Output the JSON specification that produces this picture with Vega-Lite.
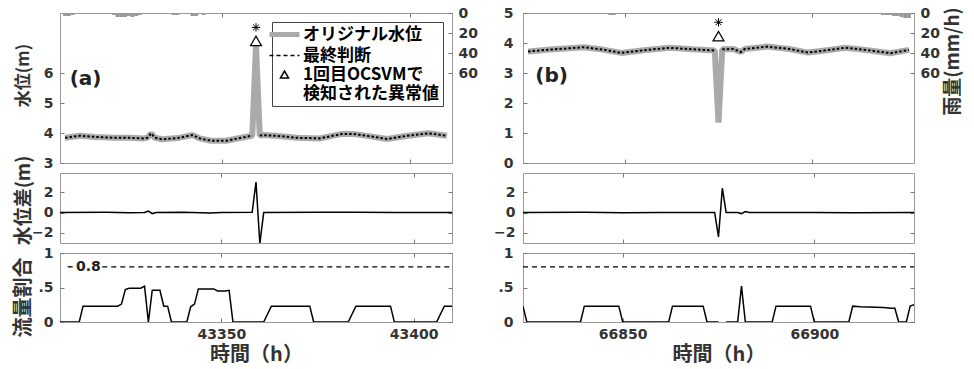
{
  "$schema": "https://vega.github.io/schema/vega-lite/v6.json",
  "background": "white",
  "padding": {"left": 12, "top": 5, "right": 5, "bottom": 5},
  "bounds": "flush",
  "columns": 2,
  "spacing": {"row": 10, "column": 71},
  "datasets": {
    "levelA": [
      {"t":43308,"orig":3.84,"final":3.84},{"t":43312,"orig":3.91,"final":3.91},{"t":43316,"orig":3.87,"final":3.87},
      {"t":43321,"orig":3.84,"final":3.84},{"t":43325,"orig":3.84,"final":3.84},{"t":43329,"orig":3.82,"final":3.82},
      {"t":43330,"orig":3.84,"final":3.84},{"t":43331,"orig":3.99,"final":3.99},{"t":43332,"orig":3.84,"final":3.84},
      {"t":43334,"orig":3.79,"final":3.79},{"t":43338,"orig":3.83,"final":3.83},{"t":43342,"orig":3.93,"final":3.93},
      {"t":43344,"orig":3.82,"final":3.82},{"t":43347,"orig":3.74,"final":3.74},{"t":43351,"orig":3.74,"final":3.74},
      {"t":43355,"orig":3.84,"final":3.84},{"t":43358,"orig":3.91,"final":3.91},{"t":43359,"orig":6.9,"final":null},
      {"t":43360,"orig":3.92,"final":3.92},{"t":43361,"orig":3.93,"final":3.93},{"t":43365,"orig":3.9,"final":3.9},
      {"t":43370,"orig":3.84,"final":3.84},{"t":43376,"orig":3.82,"final":3.82},{"t":43382,"orig":3.97,"final":3.97},
      {"t":43385,"orig":3.97,"final":3.97},{"t":43390,"orig":3.88,"final":3.88},{"t":43394,"orig":3.8,"final":3.8},
      {"t":43399,"orig":3.9,"final":3.9},{"t":43405,"orig":3.99,"final":3.99},{"t":43410,"orig":3.91,"final":3.91}
    ],
    "levelB": [
      {"t":66824,"orig":3.72,"final":3.72},{"t":66830,"orig":3.78,"final":3.78},{"t":66839,"orig":3.86,"final":3.86},
      {"t":66844,"orig":3.78,"final":3.78},{"t":66849,"orig":3.67,"final":3.67},{"t":66855,"orig":3.76,"final":3.76},
      {"t":66862,"orig":3.84,"final":3.84},{"t":66868,"orig":3.79,"final":3.79},{"t":66874,"orig":3.75,"final":3.75},
      {"t":66875,"orig":1.35,"final":null},{"t":66876,"orig":3.79,"final":3.79},{"t":66879,"orig":3.8,"final":3.8},
      {"t":66881,"orig":3.7,"final":3.7},{"t":66882,"orig":3.8,"final":3.8},{"t":66888,"orig":3.88,"final":3.88},
      {"t":66894,"orig":3.8,"final":3.8},{"t":66899,"orig":3.68,"final":3.68},{"t":66904,"orig":3.76,"final":3.76},
      {"t":66909,"orig":3.84,"final":3.84},{"t":66915,"orig":3.76,"final":3.76},{"t":66921,"orig":3.66,"final":3.66},
      {"t":66926,"orig":3.77,"final":3.77}
    ],
    "rainA": [
      {"t":43308,"rain":3},{"t":43309,"rain":3},{"t":43310,"rain":2},{"t":43321,"rain":2},{"t":43322,"rain":4},
      {"t":43323,"rain":4},{"t":43324,"rain":4},{"t":43325,"rain":3},{"t":43326,"rain":4},{"t":43327,"rain":3},
      {"t":43328,"rain":2},{"t":43337,"rain":2},{"t":43338,"rain":2},{"t":43342,"rain":3},{"t":43343,"rain":3},
      {"t":43345,"rain":2},{"t":43346,"rain":1}
    ],
    "rainB": [
      {"t":66845,"rain":1},{"t":66846,"rain":2},{"t":66847,"rain":2},{"t":66848,"rain":1},{"t":66916,"rain":1},
      {"t":66917,"rain":1},{"t":66918,"rain":1},{"t":66919,"rain":2},{"t":66920,"rain":2},{"t":66921,"rain":2},
      {"t":66922,"rain":3},{"t":66923,"rain":3},{"t":66924,"rain":4},{"t":66925,"rain":5},{"t":66926,"rain":5}
    ],
    "markA": [{"t":43359,"tri":7.07,"star":7.52}],
    "markB": [{"t":66875,"tri":4.23,"star":4.69}],
    "diffA": [
      {"t":43308,"d":0},{"t":43320,"d":0.02},{"t":43326,"d":-0.02},{"t":43330,"d":0},{"t":43331,"d":0.15},
      {"t":43332,"d":-0.1},{"t":43333,"d":0},{"t":43340,"d":0.02},{"t":43347,"d":-0.05},{"t":43350,"d":0},
      {"t":43358,"d":0.02},{"t":43359,"d":3.0},{"t":43360,"d":-3.05},{"t":43361,"d":0},{"t":43375,"d":0.02},
      {"t":43385,"d":0.02},{"t":43395,"d":0},{"t":43410,"d":0}
    ],
    "diffB": [
      {"t":66824,"d":0},{"t":66840,"d":0.02},{"t":66850,"d":-0.02},{"t":66860,"d":0.01},{"t":66874,"d":0},
      {"t":66875,"d":-2.4},{"t":66876,"d":2.4},{"t":66877,"d":0},{"t":66880,"d":0},{"t":66881,"d":-0.1},
      {"t":66882,"d":0.1},{"t":66883,"d":0},{"t":66900,"d":0},{"t":66910,"d":-0.02},{"t":66926,"d":0}
    ],
    "flowA": [
      {"t":43308,"r":0},{"t":43313,"r":0},{"t":43314,"r":0.23},{"t":43323,"r":0.23},{"t":43324,"r":0.26},
      {"t":43325,"r":0.47},{"t":43326,"r":0.49},{"t":43329,"r":0.49},{"t":43330,"r":0.52},{"t":43331,"r":0},
      {"t":43332,"r":0.46},{"t":43334,"r":0.46},{"t":43335,"r":0.23},{"t":43336,"r":0.23},{"t":43337,"r":0},
      {"t":43341,"r":0},{"t":43342,"r":0.22},{"t":43343,"r":0.26},{"t":43344,"r":0.48},{"t":43348,"r":0.48},
      {"t":43349,"r":0.45},{"t":43351,"r":0.45},{"t":43352,"r":0.46},{"t":43353,"r":0},{"t":43361,"r":0},
      {"t":43363,"r":0.23},{"t":43373,"r":0.23},{"t":43374,"r":0},{"t":43383,"r":0},{"t":43385,"r":0.23},
      {"t":43394,"r":0.23},{"t":43395,"r":0},{"t":43406,"r":0},{"t":43408,"r":0.23},{"t":43410,"r":0.23}
    ],
    "flowB": [
      {"t":66824,"r":0.23},{"t":66825,"r":0},{"t":66839,"r":0},{"t":66840,"r":0.23},{"t":66849,"r":0.23},
      {"t":66850,"r":0},{"t":66862,"r":0},{"t":66863,"r":0.23},{"t":66871,"r":0.23},{"t":66872,"r":0},
      {"t":66875,"r":0},{"t":66876,"r":null},{"t":66877,"r":0},{"t":66880,"r":0},{"t":66881,"r":0.52},
      {"t":66882,"r":0},{"t":66889,"r":0},{"t":66890,"r":0.23},{"t":66899,"r":0.23},{"t":66900,"r":0},
      {"t":66909,"r":0},{"t":66910,"r":0.23},{"t":66912,"r":0.22},{"t":66918,"r":0.21},{"t":66920,"r":0.2},
      {"t":66921,"r":0.2},{"t":66922,"r":0},{"t":66924,"r":0},{"t":66925,"r":0.23},{"t":66926,"r":0.25}
    ],
    "ruleA": [{"x1":43310,"x2":43312,"y":0.8},{"x1":43319,"x2":43410,"y":0.8}],
    "ruleB": [{"x1":66824,"x2":66926,"y":0.8}]
  },
  "concat": [
    {
      "width": 392, "height": 150,
      "layer": [
        {
          "data": {"name": "rainA"},
          "mark": {"type": "bar", "size": 3.8, "color": "#999999", "clip": true},
          "encoding": {
            "x": {"field": "t", "type": "quantitative", "scale": {"domain": [43308, 43410], "nice": false, "zero": false},
                  "axis": {"orient": "top", "values": [43350, 43400], "labels": false, "title": null}},
            "y": {"field": "rain", "type": "quantitative", "scale": {"domain": [0, 150], "reverse": true, "nice": false},
                  "axis": {"orient": "right", "values": [0, 20, 40, 60], "title": null, "labelPadding": 10}}
          }
        },
        {
          "data": {"name": "levelA"},
          "mark": {"type": "line", "strokeWidth": 6, "strokeJoin": "bevel", "clip": true},
          "encoding": {
            "x": {"field": "t", "type": "quantitative", "axis": {"orient": "bottom", "values": [43350, 43400], "labels": false, "title": null}},
            "y": {"field": "orig", "type": "quantitative", "scale": {"domain": [3, 8], "nice": false, "zero": false},
                  "axis": {"orient": "left", "values": [3, 4, 5, 6], "title": "水位(m)", "titleFontSize": 17, "labelPadding": 11, "titleX": -37, "titleY": 62, "titleBaseline": "middle", "titleAlign": "center"}},
            "color": {"datum": "オリジナル水位", "type": "nominal",
              "scale": {"domain": ["オリジナル水位", "最終判断", "1回目OCSVMで検知された異常値"], "range": ["#aaaaaa", "#000000", "#000000"]},
              "legend": {
                "orient": "none", "legendX": 212, "legendY": 9, "title": null, "direction": "vertical",
                "labelFont": "Noto Sans CJK JP", "labelFontSize": 17, "labelFontWeight": "bold", "labelColor": "#000000",
                "strokeColor": "#444444", "fillColor": "#ffffff", "padding": 4, "rowPadding": 1, "labelOffset": 10,
                "symbolSize": 900, "symbolType": "stroke",
                "labelExpr": "datum.label === '1回目OCSVMで検知された異常値' ? ['1回目OCSVMで', '検知された異常値'] : datum.label",
                "encode": {"symbols": {"update": {
                  "shape": {"signal": "datum.value === '1回目OCSVMで検知された異常値' ? 'triangle-up' : 'stroke'"},
                  "size": {"signal": "datum.value === '1回目OCSVMで検知された異常値' ? 64 : 900"},
                  "strokeWidth": {"signal": "datum.value === 'オリジナル水位' ? 5 : 1.5"},
                  "strokeDash": {"signal": "datum.value === '最終判断' ? [4, 3] : [1, 0]"},
                  "stroke": {"signal": "datum.value === 'オリジナル水位' ? '#aaaaaa' : '#000000'"},
                  "fill": {"value": "transparent"},
                  "opacity": {"value": 1}
                }}}
              }
            }
          }
        },
        {
          "data": {"name": "levelA"},
          "mark": {"type": "line", "strokeWidth": 2, "strokeDash": [2.5, 2], "invalid": "break-paths-show-domains", "clip": true},
          "encoding": {
            "x": {"field": "t", "type": "quantitative", "axis": null},
            "y": {"field": "final", "type": "quantitative", "scale": {"domain": [3, 8], "nice": false, "zero": false}, "axis": null},
            "color": {"datum": "最終判断", "type": "nominal"}
          }
        },
        {
          "data": {"name": "markA"},
          "mark": {"type": "point", "shape": "triangle-up", "filled": false, "size": 120, "strokeWidth": 1.2, "opacity": 1},
          "encoding": {
            "x": {"field": "t", "type": "quantitative", "axis": null},
            "y": {"field": "tri", "type": "quantitative", "scale": {"domain": [3, 8], "nice": false, "zero": false}, "axis": null},
            "color": {"datum": "1回目OCSVMで検知された異常値", "type": "nominal"}
          }
        },
        {
          "data": {"name": "markA"},
          "mark": {"type": "point", "shape": "M-1,0L1,0M0,-1L0,1M-0.7,-0.7L0.7,0.7M-0.7,0.7L0.7,-0.7", "filled": false, "stroke": "#000000", "size": 70, "strokeWidth": 1, "opacity": 1},
          "encoding": {
            "x": {"field": "t", "type": "quantitative", "axis": null},
            "y": {"field": "star", "type": "quantitative", "scale": {"domain": [3, 8], "nice": false, "zero": false}, "axis": null}
          }
        },
        {
          "data": {"values": [{}]},
          "mark": {"type": "text", "font": "DejaVu Sans", "fontSize": 20, "fontWeight": "bold", "align": "center", "baseline": "middle", "color": "#222222"},
          "encoding": {
            "x": {"datum": 43313.5, "type": "quantitative", "axis": null},
            "y": {"datum": 5.8, "type": "quantitative", "scale": {"domain": [3, 8], "nice": false, "zero": false}, "axis": null},
            "text": {"value": "(a)"}
          }
        }
      ],
      "resolve": {"scale": {"y": "independent"}, "axis": {"x": "independent", "y": "independent"}}
    },
    {
      "width": 391, "height": 150,
      "layer": [
        {
          "data": {"name": "rainB"},
          "mark": {"type": "bar", "size": 3.8, "color": "#999999", "clip": true},
          "encoding": {
            "x": {"field": "t", "type": "quantitative", "scale": {"domain": [66824, 66926], "nice": false, "zero": false},
                  "axis": {"orient": "top", "values": [66850, 66900], "labels": false, "title": null}},
            "y": {"field": "rain", "type": "quantitative", "scale": {"domain": [0, 150], "reverse": true, "nice": false},
                  "axis": {"orient": "right", "values": [0, 20, 40, 60], "title": "雨量(mm/h)", "titleFontSize": 19, "labelPadding": 10, "titleAngle": 270, "titleX": 38, "titleY": 48, "titleBaseline": "middle", "titleAlign": "center"}}
          }
        },
        {
          "data": {"name": "levelB"},
          "mark": {"type": "line", "strokeWidth": 6, "strokeJoin": "bevel", "color": "#aaaaaa", "clip": true},
          "encoding": {
            "x": {"field": "t", "type": "quantitative", "axis": {"orient": "bottom", "values": [66850, 66900], "labels": false, "title": null}},
            "y": {"field": "orig", "type": "quantitative", "scale": {"domain": [0, 5], "nice": false},
                  "axis": {"orient": "left", "values": [0, 1, 2, 3, 4, 5], "title": null, "labelPadding": 14}}
          }
        },
        {
          "data": {"name": "levelB"},
          "mark": {"type": "line", "strokeWidth": 2, "strokeDash": [2.5, 2], "color": "#000000", "invalid": "break-paths-show-domains", "clip": true},
          "encoding": {
            "x": {"field": "t", "type": "quantitative", "axis": null},
            "y": {"field": "final", "type": "quantitative", "scale": {"domain": [0, 5], "nice": false}, "axis": null}
          }
        },
        {
          "data": {"name": "markB"},
          "mark": {"type": "point", "shape": "triangle-up", "filled": false, "size": 120, "strokeWidth": 1.2, "stroke": "#000000", "opacity": 1},
          "encoding": {
            "x": {"field": "t", "type": "quantitative", "axis": null},
            "y": {"field": "tri", "type": "quantitative", "scale": {"domain": [0, 5], "nice": false}, "axis": null}
          }
        },
        {
          "data": {"name": "markB"},
          "mark": {"type": "point", "shape": "M-1,0L1,0M0,-1L0,1M-0.7,-0.7L0.7,0.7M-0.7,0.7L0.7,-0.7", "filled": false, "stroke": "#000000", "size": 70, "strokeWidth": 1, "opacity": 1},
          "encoding": {
            "x": {"field": "t", "type": "quantitative", "axis": null},
            "y": {"field": "star", "type": "quantitative", "scale": {"domain": [0, 5], "nice": false}, "axis": null}
          }
        },
        {
          "data": {"values": [{}]},
          "mark": {"type": "text", "font": "DejaVu Sans", "fontSize": 20, "fontWeight": "bold", "align": "center", "baseline": "middle", "color": "#222222"},
          "encoding": {
            "x": {"datum": 66830.3, "type": "quantitative", "axis": null},
            "y": {"datum": 2.9, "type": "quantitative", "scale": {"domain": [0, 5], "nice": false}, "axis": null},
            "text": {"value": "(b)"}
          }
        }
      ],
      "resolve": {"scale": {"y": "independent"}, "axis": {"x": "independent", "y": "independent"}}
    },
    {
      "width": 392, "height": 70,
      "layer": [
        {
          "data": {"name": "diffA"},
          "mark": {"type": "line", "color": "#000000", "strokeWidth": 1.5, "clip": true},
          "encoding": {
            "x": {"field": "t", "type": "quantitative", "scale": {"domain": [43308, 43410], "nice": false, "zero": false},
                  "axis": {"orient": "bottom", "values": [43350, 43400], "labels": false, "title": null}},
            "y": {"field": "d", "type": "quantitative", "scale": {"domain": [-3, 3.9], "nice": false, "zero": false},
                  "axis": {"orient": "left", "values": [-2, 0, 2], "title": "水位差(m)", "titleFontSize": 19, "labelPadding": 11, "titleX": -37, "titleY": 27, "titleBaseline": "middle", "titleAlign": "center"}}
          }
        },
        {
          "data": {"name": "diffA"},
          "mark": {"type": "line", "opacity": 0},
          "encoding": {
            "x": {"field": "t", "type": "quantitative", "axis": {"orient": "top", "values": [43350, 43400], "labels": false, "title": null}},
            "y": {"field": "d", "type": "quantitative", "axis": {"orient": "right", "values": [-2, 0, 2], "labels": false, "title": null}}
          }
        }
      ],
      "resolve": {"axis": {"x": "independent", "y": "independent"}}
    },
    {
      "width": 391, "height": 70,
      "layer": [
        {
          "data": {"name": "diffB"},
          "mark": {"type": "line", "color": "#000000", "strokeWidth": 1.5, "clip": true},
          "encoding": {
            "x": {"field": "t", "type": "quantitative", "scale": {"domain": [66824, 66926], "nice": false, "zero": false},
                  "axis": {"orient": "bottom", "values": [66850, 66900], "labels": false, "title": null}},
            "y": {"field": "d", "type": "quantitative", "scale": {"domain": [-3, 3.9], "nice": false, "zero": false},
                  "axis": {"orient": "left", "values": [-2, 0, 2], "title": null, "labelPadding": 12}}
          }
        },
        {
          "data": {"name": "diffB"},
          "mark": {"type": "line", "opacity": 0},
          "encoding": {
            "x": {"field": "t", "type": "quantitative", "axis": {"orient": "top", "values": [66850, 66900], "labels": false, "title": null}},
            "y": {"field": "d", "type": "quantitative", "axis": {"orient": "right", "values": [-2, 0, 2], "labels": false, "title": null}}
          }
        }
      ],
      "resolve": {"axis": {"x": "independent", "y": "independent"}}
    },
    {
      "width": 392, "height": 69,
      "layer": [
        {
          "data": {"name": "flowA"},
          "mark": {"type": "line", "color": "#000000", "strokeWidth": 1.5, "clip": true},
          "encoding": {
            "x": {"field": "t", "type": "quantitative", "scale": {"domain": [43308, 43410], "nice": false, "zero": false},
                  "axis": {"orient": "bottom", "values": [43350, 43400], "format": "d", "title": "時間（h）", "labelPadding": 9, "titlePadding": 3}},
            "y": {"field": "r", "type": "quantitative", "scale": {"domain": [0, 1], "nice": false},
                  "axis": {"orient": "left", "values": [0, 0.5, 1], "labelExpr": "datum.value === 0.5 ? '.5' : toString(datum.value)", "title": "流量割合", "labelPadding": 11, "titleX": -37, "titleY": 44, "titleBaseline": "middle", "titleAlign": "center"}}
          }
        },
        {
          "data": {"name": "ruleA"},
          "mark": {"type": "rule", "color": "#000000", "strokeWidth": 1.3, "strokeDash": [5, 4]},
          "encoding": {
            "x": {"field": "x1", "type": "quantitative", "axis": null},
            "x2": {"field": "x2"},
            "y": {"field": "y", "type": "quantitative", "axis": null}
          }
        },
        {
          "data": {"values": [{}]},
          "mark": {"type": "text", "font": "DejaVu Sans", "fontSize": 14, "fontWeight": "bold", "align": "center", "baseline": "middle", "color": "#222222"},
          "encoding": {
            "x": {"datum": 43315.4, "type": "quantitative", "axis": null},
            "y": {"datum": 0.8, "type": "quantitative", "axis": null},
            "text": {"value": "0.8"}
          }
        },
        {
          "data": {"name": "flowA"},
          "mark": {"type": "line", "opacity": 0},
          "encoding": {
            "x": {"field": "t", "type": "quantitative", "axis": {"orient": "top", "values": [43350, 43400], "labels": false, "title": null}},
            "y": {"field": "r", "type": "quantitative", "axis": {"orient": "right", "values": [0, 0.5, 1], "labels": false, "title": null}}
          }
        }
      ],
      "resolve": {"axis": {"x": "independent", "y": "independent"}}
    },
    {
      "width": 391, "height": 69,
      "layer": [
        {
          "data": {"name": "flowB"},
          "mark": {"type": "line", "color": "#000000", "strokeWidth": 1.5, "invalid": "break-paths-show-domains", "clip": true},
          "encoding": {
            "x": {"field": "t", "type": "quantitative", "scale": {"domain": [66824, 66926], "nice": false, "zero": false},
                  "axis": {"orient": "bottom", "values": [66850, 66900], "format": "d", "title": "時間（h）", "labelPadding": 9, "titlePadding": 3}},
            "y": {"field": "r", "type": "quantitative", "scale": {"domain": [0, 1], "nice": false},
                  "axis": {"orient": "left", "values": [0, 0.5, 1], "labelExpr": "datum.value === 0.5 ? '.5' : toString(datum.value)", "title": null, "labelPadding": 14}}
          }
        },
        {
          "data": {"name": "ruleB"},
          "mark": {"type": "rule", "color": "#000000", "strokeWidth": 1.3, "strokeDash": [5, 4]},
          "encoding": {
            "x": {"field": "x1", "type": "quantitative", "axis": null},
            "x2": {"field": "x2"},
            "y": {"field": "y", "type": "quantitative", "axis": null}
          }
        },
        {
          "data": {"name": "flowB"},
          "mark": {"type": "line", "opacity": 0},
          "encoding": {
            "x": {"field": "t", "type": "quantitative", "axis": {"orient": "top", "values": [66850, 66900], "labels": false, "title": null}},
            "y": {"field": "r", "type": "quantitative", "axis": {"orient": "right", "values": [0, 0.5, 1], "labels": false, "title": null}}
          }
        }
      ],
      "resolve": {"axis": {"x": "independent", "y": "independent"}}
    }
  ],
  "resolve": {"scale": {"color": "independent"}, "legend": {"color": "independent"}},
  "config": {
    "view": {"stroke": "#999999", "strokeWidth": 1},
    "axis": {
      "domain": false, "grid": false, "labelOverlap": false,
      "tickColor": "#777777", "tickSize": -4, "tickWidth": 1,
      "labelFont": "DejaVu Sans", "labelFontSize": 14, "labelFontWeight": "bold", "labelColor": "#333333",
      "titleFont": "Noto Sans CJK JP", "titleFontSize": 20, "titleFontWeight": "bold", "titleColor": "#333333"
    }
  }
}
